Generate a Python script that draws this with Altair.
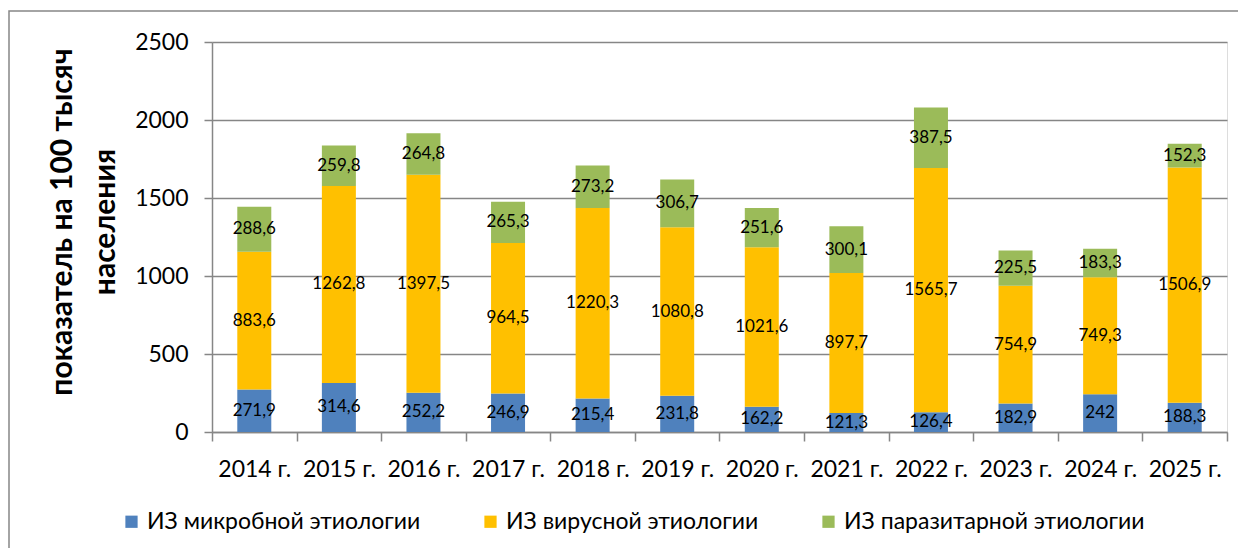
import altair as alt
import pandas as pd

years = ["2014 г.", "2015 г.", "2016 г.", "2017 г.", "2018 г.", "2019 г.",
         "2020 г.", "2021 г.", "2022 г.", "2023 г.", "2024 г.", "2025 г."]
series = ["ИЗ микробной этиологии", "ИЗ вирусной этиологии", "ИЗ паразитарной этиологии"]
microbial = [271.9, 314.6, 252.2, 246.9, 215.4, 231.8, 162.2, 121.3, 126.4, 182.9, 242, 188.3]
viral = [883.6, 1262.8, 1397.5, 964.5, 1220.3, 1080.8, 1021.6, 897.7, 1565.7, 754.9, 749.3, 1506.9]
parasitic = [288.6, 259.8, 264.8, 265.3, 273.2, 306.7, 251.6, 300.1, 387.5, 225.5, 183.3, 152.3]
title_lines = ["показатель на 100 тысяч", "населения"]
colors = ["#4F81BD", "#FFC000", "#9BBB59"]

FONT = "Lato"

rows = []
for i, y in enumerate(years):
    base = 0.0
    for k, (name, vals) in enumerate(zip(series, [microbial, viral, parasitic])):
        v = vals[i]
        rows.append({
            "year": y, "series": name, "value": v, "order": k,
            "mid": base + v / 2,
            "label": f"{v:g}".replace(".", ","),
        })
        base += v
df = pd.DataFrame(rows)

x_enc = alt.X("year:N", sort=years, title=None,
              scale=alt.Scale(paddingInner=0, paddingOuter=0),
              axis=alt.Axis(labelAngle=0, labelFont=FONT, labelFontSize=23,
                            labelColor="#000000", labelPadding=17,
                            tickBand="extent", tickSize=9, tickColor="#868686",
                            tickWidth=1.5, domainColor="#868686", domainWidth=1.5,
                            grid=False))

yscale = alt.Scale(domain=[0, 2500], nice=False, zero=True)

bars = alt.Chart(df).mark_bar(size=34).encode(
    x=x_enc,
    y=alt.Y("sum(value):Q", stack="zero", title=None, scale=yscale,
            axis=alt.Axis(values=[0, 500, 1000, 1500, 2000, 2500], format="d",
                          labelFont=FONT, labelFontSize=23, labelColor="#000000",
                          labelPadding=16, tickSize=8, tickColor="#868686",
                          tickWidth=1.5, domainColor="#868686", domainWidth=1.5,
                          gridColor="#868686", gridWidth=1.5, title=None)),
    color=alt.Color("series:N", sort=series,
                    scale=alt.Scale(domain=series, range=colors),
                    legend=alt.Legend(title=None, orient="none", direction="horizontal",
                                      legendX=-92, legendY=468,
                                      symbolType="square", symbolSize=150,
                                      symbolStrokeWidth=0,
                                      labelFont=FONT, labelFontSize=23,
                                      labelColor="#000000", labelLimit=500,
                                      columnPadding=58, symbolOffset=0)),
    order=alt.Order("order:Q"),
)

labels = alt.Chart(df).mark_text(font=FONT, fontSize=17, color="#000000",
                                 baseline="middle").encode(
    x=alt.X("year:N", sort=years),
    y=alt.Y("mid:Q", scale=yscale),
    text="label:N",
)

title_df = pd.DataFrame({"t": title_lines, "i": [0, 1]})
title1 = alt.Chart(title_df.iloc[[0]]).mark_text(
    font=FONT, fontSize=30, fontWeight="bold", color="#000000",
    angle=270, align="center", baseline="middle"
).encode(x=alt.value(-149), y=alt.value(180), text="t:N")
title2 = alt.Chart(title_df.iloc[[1]]).mark_text(
    font=FONT, fontSize=30, fontWeight="bold", color="#000000",
    angle=270, align="center", baseline="middle"
).encode(x=alt.value(-106), y=alt.value(180), text="t:N")

frame = alt.Chart(pd.DataFrame({"a": [0]})).mark_rect(
    fill=None, stroke="#868686", strokeWidth=1.5
).encode(x=alt.value(-203), x2=alt.value(1040), y=alt.value(-31), y2=alt.value(600))

chart = alt.layer(frame, bars, labels, title1, title2).properties(
    width=1015, height=390,
    autosize=alt.AutoSizeParams(type="none"),
    padding={"left": 204, "top": 34, "right": 11, "bottom": 116},
).configure_view(stroke=None).configure(background="white")

chart.save("out.html", embed_options={"renderer": "svg", "actions": False})
